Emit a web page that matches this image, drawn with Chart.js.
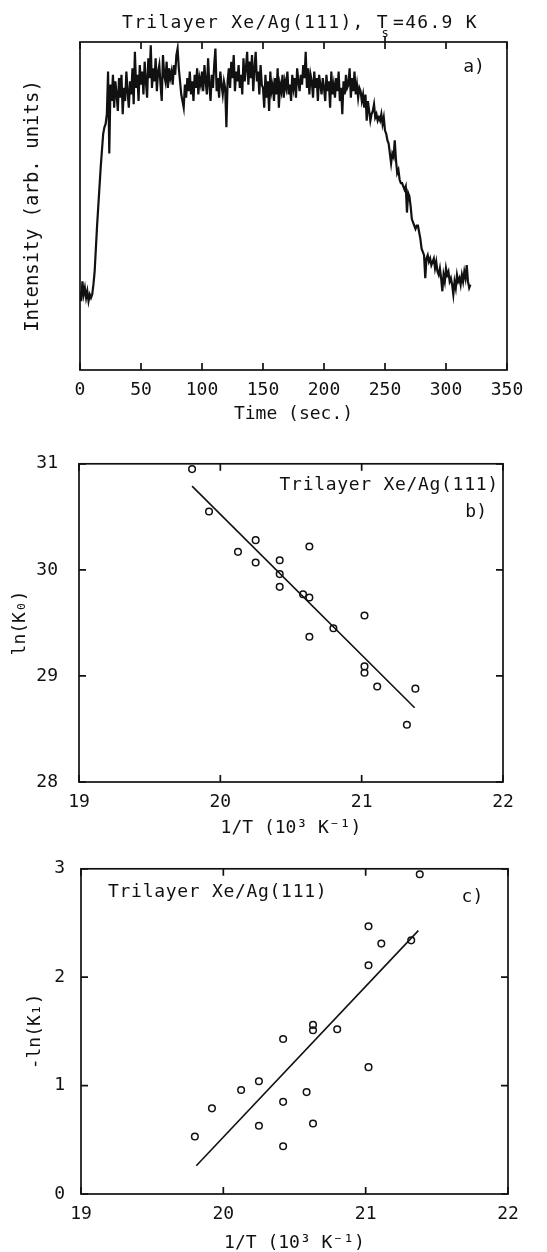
<!DOCTYPE html>
<html lang="en">
<head>
<meta charset="UTF-8">
<title>Trilayer Xe/Ag(111) desorption kinetics</title>
<script src="https://cdn.jsdelivr.net/npm/chart.js"></script>
<style>
* { margin: 0; padding: 0; box-sizing: border-box; }
body { background: #fff; width: 547px; height: 1252px; position: relative; overflow: hidden; }
canvas { position: absolute; left: 0; }
#timeChart { top: 0; }
#k0Chart { top: 432px; }
#k1Chart { top: 842px; }
</style>
</head>
<body>
<canvas id="timeChart" width="547" height="432"></canvas>
<canvas id="k0Chart" width="547" height="410"></canvas>
<canvas id="k1Chart" width="547" height="410"></canvas>
<script>
// (a) intensity trace, one reading per second from t = 0
const SAMPLE_SEC = 1;
const intensity = [
  24, 21, 27, 23, 25, 22, 24, 21, 23, 22,
  23, 26, 30, 37, 44, 50, 56, 62, 67, 72,
  74, 75, 78, 91, 66, 87, 82, 90, 80, 88,
  84, 79, 89, 83, 90, 78, 86, 82, 91, 85,
  80, 88, 84, 92, 81, 97, 86, 90, 82, 93,
  87, 91, 84, 94, 88, 83, 95, 89, 99, 86,
  92, 88, 95, 85, 91, 93, 87, 82, 96, 90,
  88, 94, 86, 92, 89, 91, 87, 93, 90, 96,
  98, 92, 88, 84, 82, 80, 87, 83, 89, 85,
  91, 84, 88, 82, 90, 86, 92, 84, 89, 87,
  91, 85, 93, 88, 84, 95, 87, 82, 90, 86,
  93, 98, 85, 89, 83, 91, 87, 84, 88, 86,
  74, 88, 92, 86, 94, 89, 96, 85, 91, 88,
  93, 86, 90, 84, 95, 88, 92, 97, 87, 94,
  89, 96, 85, 92, 97, 88, 91, 84, 93, 87,
  86, 80, 90, 83, 88, 79, 91, 85, 87, 82,
  89, 84, 92, 80, 87, 85, 90, 83, 88, 86,
  91, 84, 87, 82, 90, 86, 89, 83, 92, 88,
  85, 90, 87, 93, 89, 97, 86, 92, 84, 90,
  88, 83, 91, 86, 89, 82, 90, 87, 84, 89,
  86, 82, 90, 85, 88, 80, 91, 84, 87, 83,
  89, 85, 91, 82, 86, 78, 88, 84, 90, 86,
  87, 92, 83, 89, 85, 91, 84, 87, 83, 86,
  85, 82, 84, 80, 84, 76, 82, 79, 76, 78,
  79, 81, 77, 78, 76, 77, 76, 78, 75, 77,
  73, 72, 70, 69, 66, 63, 66, 65, 70, 64,
  60, 61, 58, 57, 57, 56, 55, 56, 48, 54,
  53, 50, 46, 45, 44, 43, 44, 44, 42, 40,
  37, 36, 35, 28, 34, 35, 33, 34, 32, 33,
  34, 31, 33, 30, 29, 31, 28, 24, 29, 27,
  31, 29, 30, 27, 28, 26, 23, 27, 25, 29,
  27, 28, 26, 29, 27, 30, 28, 32, 27, 25,
  26
];
const timeTicks = [0, 50, 100, 150, 200, 250, 300, 350];
const TS_TIME = 250;

// (b), (c) rate constants vs inverse temperature
const invT = [19.80, 19.92, 20.125, 20.25, 20.25, 20.42, 20.42, 20.42, 20.585, 20.63,
              20.63, 20.63, 20.80, 21.02, 21.02, 21.02, 21.11, 21.32, 21.38];
const lnK0 = [30.95, 30.55, 30.17, 30.28, 30.07, 30.09, 29.96, 29.84, 29.77, 29.74,
              30.22, 29.37, 29.45, 29.57, 29.09, 29.03, 28.90, 28.54, 28.88];
const negLnK1 = [0.53, 0.79, 0.96, 1.04, 0.63, 1.43, 0.85, 0.44, 0.94, 1.56,
                 1.51, 0.65, 1.52, 2.47, 2.11, 1.17, 2.31, 2.34, 2.95];
const fitK0X = [19.80, 21.375];
const fitK0Y = [30.79, 28.70];
const fitK1X = [19.81, 21.37];
const fitK1Y = [0.26, 2.43];

const invTTicks = [19, 20, 21, 22];
const k0Ticks = [28, 29, 30, 31];
const k1Ticks = [0, 1, 2, 3];

const ink = '#111';
const mono = "'DejaVu Sans Mono', monospace";
Chart.defaults.font.family = mono;
Chart.defaults.color = ink;

// box frame with inward tick marks, plus free text placed in data units
const framePlugin = {
  id: 'frame',
  afterDatasetsDraw(chart, args, opts) {
    const { ctx, chartArea: a, scales: { x, y } } = chart;
    const len = opts.len || 7;
    ctx.save();
    ctx.strokeStyle = ink;
    ctx.lineWidth = 1.7;
    ctx.strokeRect(a.left, a.top, a.right - a.left, a.bottom - a.top);
    ctx.beginPath();
    x.ticks.forEach(t => {
      const px = x.getPixelForValue(t.value);
      ctx.moveTo(px, a.bottom); ctx.lineTo(px, a.bottom - len);
      ctx.moveTo(px, a.top); ctx.lineTo(px, a.top + len);
    });
    if (opts.yTicks) {
      y.ticks.forEach(t => {
        const py = y.getPixelForValue(t.value);
        ctx.moveTo(a.left, py); ctx.lineTo(a.left + len, py);
        ctx.moveTo(a.right, py); ctx.lineTo(a.right - len, py);
      });
    }
    if (opts.marker !== undefined) {
      const px = x.getPixelForValue(opts.marker);
      ctx.moveTo(px, a.top - 6); ctx.lineTo(px, a.top + len);
    }
    ctx.stroke();
    ctx.fillStyle = ink;
    ctx.textBaseline = 'middle';
    (opts.notes || []).forEach(n => {
      ctx.font = (n.size || 18) + 'px ' + mono;
      ctx.letterSpacing = (n.spacing || 0) + 'px';
      ctx.textAlign = n.align || 'left';
      ctx.fillText(n.text, x.getPixelForValue(n.x) + (n.dx || 0), y.getPixelForValue(n.y));
    });
    ctx.restore();
  }
};

function linearAxis(min, max, ticks, extra) {
  return Object.assign({
    type: 'linear', min: min, max: max,
    grid: { display: false, drawTicks: false },
    border: { display: false },
    afterBuildTicks: s => { s.ticks = ticks.map(v => ({ value: v })); }
  }, extra);
}

function baseOptions(padding, scales, frame) {
  return {
    responsive: false,
    animation: false,
    events: [],
    layout: { padding: padding },
    plugins: { legend: { display: false }, tooltip: { enabled: false }, frame: frame },
    scales: scales
  };
}

new Chart(document.getElementById('timeChart'), {
  type: 'line',
  data: {
    datasets: [{
      data: intensity.map((v, i) => ({ x: i * SAMPLE_SEC, y: v })),
      borderColor: ink, borderWidth: 2.2, pointRadius: 0, tension: 0
    }]
  },
  options: baseOptions({ top: 42, right: 40, left: 0, bottom: 0 }, {
    x: linearAxis(0, 350, timeTicks, {
      ticks: { padding: 10, font: { size: 18 }, maxRotation: 0 },
      title: { display: true, text: 'Time (sec.)', font: { size: 18, lineHeight: 1 }, padding: { top: 0, bottom: 9 } },
      afterFit: s => { s.height = 62; }
    }),
    y: linearAxis(0, 100, [], {
      ticks: { display: false },
      title: { display: true, text: 'Intensity (arb. units)', font: { size: 19, lineHeight: 1 }, padding: { top: 23.5, bottom: 0 } },
      afterFit: s => { s.width = 80; }
    })
  }, {
    yTicks: false,
    marker: TS_TIME,
    notes: [
      { text: 'Trilayer Xe/Ag(111), T', x: TS_TIME, dx: 4, y: 105.8, align: 'right', spacing: 1.3 },
      { text: 's', x: TS_TIME, y: 102.5, align: 'center', size: 12 },
      { text: '=46.9 K', x: TS_TIME, dx: 8, y: 105.8, align: 'left', spacing: 1.3 },
      { text: 'a)', x: 323, y: 92.4, align: 'center' }
    ]
  }),
  plugins: [framePlugin]
});

function rateChart(id, values, fitX, fitY, yMin, yMax, yTicks, yTitle, layout, notes) {
  return new Chart(document.getElementById(id), {
    type: 'scatter',
    data: {
      datasets: [{
        data: invT.map((t, i) => ({ x: t, y: values[i] })),
        pointStyle: 'circle', pointRadius: 3.3, borderWidth: 1.5,
        borderColor: ink, backgroundColor: 'rgba(0,0,0,0)', clip: false
      }, {
        data: fitX.map((t, i) => ({ x: t, y: fitY[i] })),
        showLine: true, pointRadius: 0, borderColor: ink, borderWidth: 1.6
      }]
    },
    options: baseOptions({ top: 21, right: layout.right, left: 0, bottom: 0 }, {
      x: linearAxis(19, 22, invTTicks, {
        ticks: { padding: 10, font: { size: 18 }, maxRotation: 0 },
        title: { display: true, text: '1/T (10³ K⁻¹)', font: { size: 18, lineHeight: 1 }, padding: { top: 0, bottom: layout.titleGap } },
        afterFit: s => { s.height = layout.xHeight; }
      }),
      y: linearAxis(yMin, yMax, yTicks, {
        ticks: { padding: layout.tickPad, font: { size: 18 } },
        title: { display: true, text: yTitle, font: { size: 18, lineHeight: 1 }, padding: { top: layout.yTitlePad, bottom: 0 } },
        afterFit: s => { s.width = layout.yWidth; }
      })
    }, { yTicks: true, notes: notes }),
    plugins: [framePlugin]
  });
}

rateChart('k0Chart', lnK0, fitK0X, fitK0Y, 28, 31, k0Ticks, 'ln(K₀)',
  { right: 44, yWidth: 79, xHeight: 60, titleGap: 5, tickPad: 21, yTitlePad: 11 },
  [
    { text: 'Trilayer Xe/Ag(111)', x: 21.97, y: 30.8, align: 'right', spacing: 0.7 },
    { text: 'b)', x: 21.81, y: 30.54, align: 'center' }
  ]);

rateChart('k1Chart', negLnK1, fitK1X, fitK1Y, 0, 3, k1Ticks, '-ln(K₁)',
  { right: 39, yWidth: 81, xHeight: 58, titleGap: 0, tickPad: 16, yTitlePad: 26 },
  [
    { text: 'Trilayer Xe/Ag(111)', x: 19.19, y: 2.78, align: 'left', spacing: 0.7 },
    { text: 'c)', x: 21.75, y: 2.74, align: 'center' }
  ]);
</script>
</body>
</html>
